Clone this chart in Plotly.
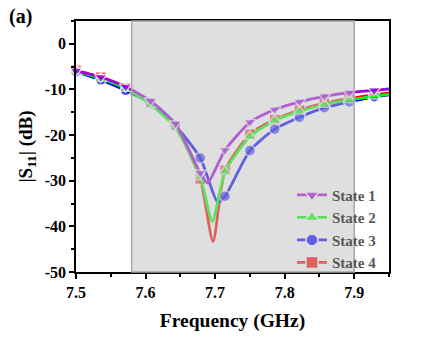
import plotly.graph_objects as go

# marker frequencies (GHz)
freq = [7.5, 7.5357, 7.5714, 7.6071, 7.6429, 7.6786, 7.7143, 7.75,
        7.7857, 7.8214, 7.8571, 7.8929, 7.9286, 7.9643]

s1 = [-5.9, -7.3, -9.4, -12.5, -17.5, -28.3, -23.3, -17.2, -14.4, -12.7, -11.5, -10.7, -10.2, -9.7]
s2 = [-6.0, -7.6, -9.8, -13.3, -18.3, -29.2, -28.0, -20.3, -16.8, -14.8, -13.3, -12.3, -11.5, -10.8]
s3 = [-6.1, -7.9, -10.2, -13.0, -17.9, -25.0, -33.4, -23.4, -18.7, -16.1, -14.0, -12.7, -11.6, -10.9]
s4 = [-5.8, -7.3, -9.6, -13.0, -18.0, -29.6, -27.7, -19.8, -16.6, -14.5, -13.0, -12.0, -11.2, -10.6]

# resonance minima (freq, dB)
min1 = (7.689, -30.5)
min2 = (7.696, -38.9)
min3 = (7.704, -34.8)
min4 = (7.697, -43.3)

names = ["State 1", "State 2", "State 3", "State 4"]
colors = ["#A000DC", "#00FF00", "#0000FF", "#FF0000"]
legend_colors = ["#B060D0", "#60E060", "#6060E0", "#E06060"]
symbols = ["triangle-down", "triangle-up", "circle", "square"]

xticks = [7.5, 7.6, 7.7, 7.8, 7.9]
xticklabels = ["7.5", "7.6", "7.7", "7.8", "7.9"]
yticks = [0, -10, -20, -30, -40, -50]
yticklabels = ["0", "-10", "-20", "-30", "-40", "-50"]

fig = go.Figure()

series = list(zip([s1, s2, s3, s4], [min1, min2, min3, min4], names, colors, symbols))
for ys, mn, name, col, sym in reversed(series):
    pts = list(zip(freq, ys, [11] * len(freq)))
    pts.append((mn[0], mn[1], 0))
    pts.sort(key=lambda p: p[0])
    xs = [p[0] for p in pts]
    yv = [p[1] for p in pts]
    sz = [p[2] for p in pts]
    sz[-1] = 0
    fig.add_trace(go.Scatter(
        x=xs, y=yv, mode="lines+markers", showlegend=False,
        line=dict(color=col, width=2.8, shape="spline", smoothing=0.6),
        marker=dict(symbol=sym, size=sz, color=col, line=dict(color="white", width=1.5)),
        cliponaxis=False,
    ))

for name, col, sym in zip(names, legend_colors, symbols):
    fig.add_trace(go.Scatter(
        x=[None], y=[None], mode="lines+markers", name=name,
        line=dict(color=col, width=2.8),
        marker=dict(symbol=sym, size=12, color=col, line=dict(color="#DFDFDF", width=1.5)),
    ))

fig.add_shape(type="rect", xref="x", yref="paper", x0=7.58, x1=7.9, y0=0, y1=1,
              fillcolor="rgba(191,191,191,0.5)", line=dict(color="#A8A8A8", width=1.5),
              layer="above")

font = "Liberation Serif"
fig.update_layout(
    width=421, height=339,
    margin=dict(l=76, r=32, t=21, b=67),
    paper_bgcolor="white", plot_bgcolor="white",
    font=dict(family=font, size=13, color="black"),
    xaxis=dict(range=[7.5, 7.95], tickvals=xticks, ticktext=xticklabels,
               showgrid=False, zeroline=False,
               showline=True, linecolor="black", linewidth=1.5, mirror=True,
               ticks="outside", ticklen=5, tickwidth=1.5, tickcolor="black",
               minor=dict(dtick=0.05, tick0=7.5, ticks="outside", ticklen=3, tickwidth=1.5, tickcolor="black"),
               tickfont=dict(family=font, size=16, color="black", weight="bold"),
               title=dict(text="Frequency (GHz)", font=dict(family=font, size=19.5, weight="bold"), standoff=13)),
    yaxis=dict(range=[-50, 5], tickvals=yticks, ticktext=yticklabels,
               showgrid=False, zeroline=False,
               showline=True, linecolor="black", linewidth=1.5, mirror=True,
               ticks="outside", ticklen=5, tickwidth=1.5, tickcolor="black",
               minor=dict(dtick=5, tick0=0, ticks="outside", ticklen=3, tickwidth=1.5, tickcolor="black"),
               tickfont=dict(family=font, size=16, color="black", weight="bold"),
               title=dict(text="|S<sub>11</sub>| (dB)", font=dict(family=font, size=19, weight="bold"), standoff=7)),
    legend=dict(x=0.69, y=0.372, xanchor="left", yanchor="top", bgcolor="rgba(0,0,0,0)",
                font=dict(family=font, size=15, color="#585858", weight="bold"), tracegroupgap=0,
                itemwidth=30),
    annotations=[dict(text="(a)", x=-0.22, y=1.07, xref="paper", yref="paper",
                      xanchor="left", yanchor="top", showarrow=False,
                      font=dict(family=font, size=20, color="black", weight="bold"))],
)

fig.write_html("out.html")
